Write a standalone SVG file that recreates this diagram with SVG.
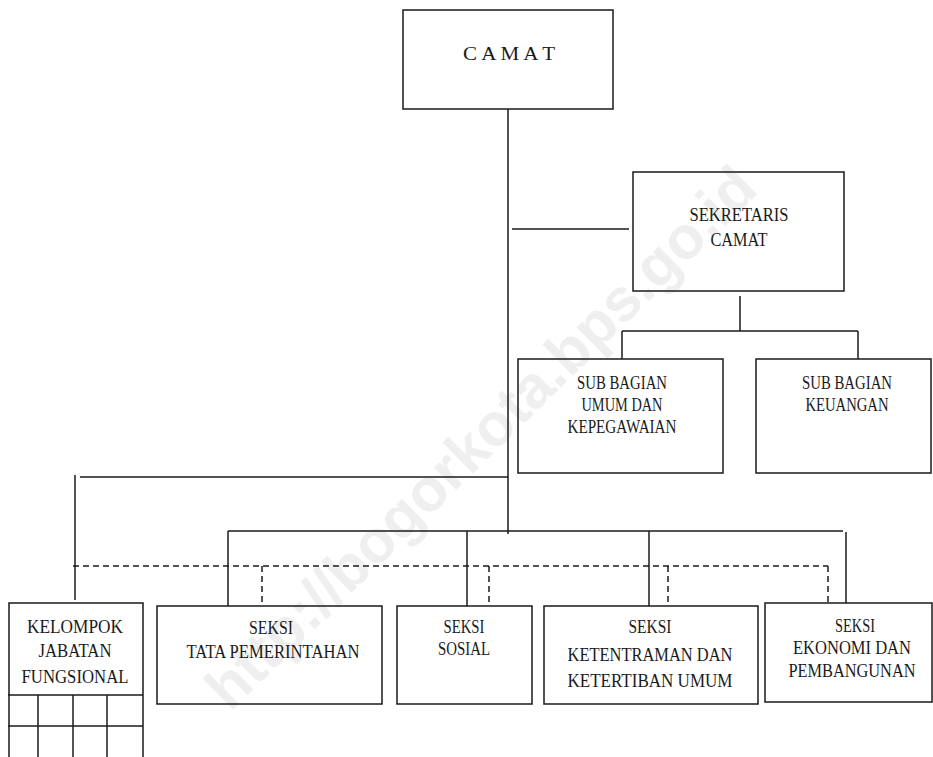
<svg xmlns="http://www.w3.org/2000/svg" width="933" height="757" viewBox="0 0 933 757">
<style>
.bg{fill:#ffffff}
.box{fill:none;stroke:#1a1a1a;stroke-width:1.5}
.ln{fill:none;stroke:#1a1a1a;stroke-width:1.5}
.dash{fill:none;stroke:#1a1a1a;stroke-width:1.5;stroke-dasharray:6 4}
.t{font-family:"Liberation Serif","Times New Roman",serif;font-size:19px;fill:#1a1a1a;text-anchor:middle}
.wm{font-family:"Liberation Sans",Arial,sans-serif;font-size:60px;font-weight:bold;fill:#efefef;text-anchor:middle}
</style>
<rect class="bg" x="0" y="0" width="933" height="757"/>
<text class="wm" transform="translate(495,452) rotate(-44.5)">http://bogorkota.bps.go.id</text>
<g id="connectors">
<line class="ln" x1="508" y1="109" x2="508" y2="534"/>
<line class="ln" x1="512" y1="229" x2="629" y2="229"/>
<line class="ln" x1="740" y1="296" x2="740" y2="331"/>
<line class="ln" x1="622" y1="331" x2="858" y2="331"/>
<line class="ln" x1="622" y1="331" x2="622" y2="359"/>
<line class="ln" x1="858" y1="331" x2="858" y2="359"/>
<line class="ln" x1="80" y1="477" x2="508" y2="477"/>
<line class="ln" x1="75" y1="475" x2="75" y2="600"/>
<line class="ln" x1="228" y1="531" x2="843" y2="531"/>
<line class="ln" x1="228" y1="531" x2="228" y2="606"/>
<line class="ln" x1="467" y1="531" x2="467" y2="606"/>
<line class="ln" x1="649" y1="531" x2="649" y2="606"/>
<line class="ln" x1="846" y1="532" x2="846" y2="603"/>
<line class="dash" x1="73" y1="566" x2="828" y2="566"/>
<line class="dash" x1="262" y1="566" x2="262" y2="606"/>
<line class="dash" x1="489" y1="566" x2="489" y2="606"/>
<line class="dash" x1="668" y1="566" x2="668" y2="606"/>
<line class="dash" x1="828" y1="566" x2="828" y2="603"/>
</g>
<g id="camat">
<rect class="box" x="403" y="10" width="210" height="99"/>
<text class="t" x="509" y="60" textLength="92" lengthAdjust="spacingAndGlyphs">C A M A T</text>
</g>
<g id="sekretaris">
<rect class="box" x="633" y="172" width="211" height="119"/>
<text class="t" x="739" y="221" textLength="99" lengthAdjust="spacingAndGlyphs">SEKRETARIS</text>
<text class="t" x="739" y="246" textLength="57" lengthAdjust="spacingAndGlyphs">CAMAT</text>
</g>
<g id="subbag-umum">
<rect class="box" x="518" y="359" width="205" height="114"/>
<text class="t" x="622" y="389" textLength="90" lengthAdjust="spacingAndGlyphs">SUB BAGIAN</text>
<text class="t" x="622" y="411" textLength="81" lengthAdjust="spacingAndGlyphs">UMUM DAN</text>
<text class="t" x="622" y="433" textLength="109" lengthAdjust="spacingAndGlyphs">KEPEGAWAIAN</text>
</g>
<g id="subbag-keuangan">
<rect class="box" x="756" y="359" width="175" height="114"/>
<text class="t" x="847" y="389" textLength="90" lengthAdjust="spacingAndGlyphs">SUB BAGIAN</text>
<text class="t" x="847" y="411" textLength="83" lengthAdjust="spacingAndGlyphs">KEUANGAN</text>
</g>
<g id="kelompok">
<polyline class="ln" points="9,757 9,603 143,603 143,757"/>
<line class="ln" x1="8" y1="695" x2="143" y2="695"/>
<line class="ln" x1="8" y1="726" x2="143" y2="726"/>
<line class="ln" x1="38" y1="695" x2="38" y2="757"/>
<line class="ln" x1="73" y1="695" x2="73" y2="757"/>
<line class="ln" x1="107" y1="695" x2="107" y2="757"/>
<text class="t" x="75" y="633" textLength="96" lengthAdjust="spacingAndGlyphs">KELOMPOK</text>
<text class="t" x="75" y="657" textLength="73" lengthAdjust="spacingAndGlyphs">JABATAN</text>
<text class="t" x="75" y="683" textLength="107" lengthAdjust="spacingAndGlyphs">FUNGSIONAL</text>
</g>
<g id="seksi-tata">
<rect class="box" x="157" y="606" width="225" height="98"/>
<text class="t" x="271" y="634" textLength="44" lengthAdjust="spacingAndGlyphs">SEKSI</text>
<text class="t" x="273" y="658" textLength="173" lengthAdjust="spacingAndGlyphs">TATA PEMERINTAHAN</text>
</g>
<g id="seksi-sosial">
<rect class="box" x="397" y="606" width="135" height="98"/>
<text class="t" x="464" y="633" textLength="41" lengthAdjust="spacingAndGlyphs">SEKSI</text>
<text class="t" x="464" y="655" textLength="52" lengthAdjust="spacingAndGlyphs">SOSIAL</text>
</g>
<g id="seksi-ketentraman">
<rect class="box" x="544" y="606" width="214" height="98"/>
<text class="t" x="650" y="633" textLength="43" lengthAdjust="spacingAndGlyphs">SEKSI</text>
<text class="t" x="650" y="661" textLength="165" lengthAdjust="spacingAndGlyphs">KETENTRAMAN DAN</text>
<text class="t" x="650" y="687" textLength="165" lengthAdjust="spacingAndGlyphs">KETERTIBAN UMUM</text>
</g>
<g id="seksi-ekonomi">
<rect class="box" x="765" y="603" width="167" height="99"/>
<text class="t" x="855" y="632" textLength="40" lengthAdjust="spacingAndGlyphs">SEKSI</text>
<text class="t" x="852" y="654" textLength="118" lengthAdjust="spacingAndGlyphs">EKONOMI DAN</text>
<text class="t" x="852" y="677" textLength="127" lengthAdjust="spacingAndGlyphs">PEMBANGUNAN</text>
</g>
</svg>
